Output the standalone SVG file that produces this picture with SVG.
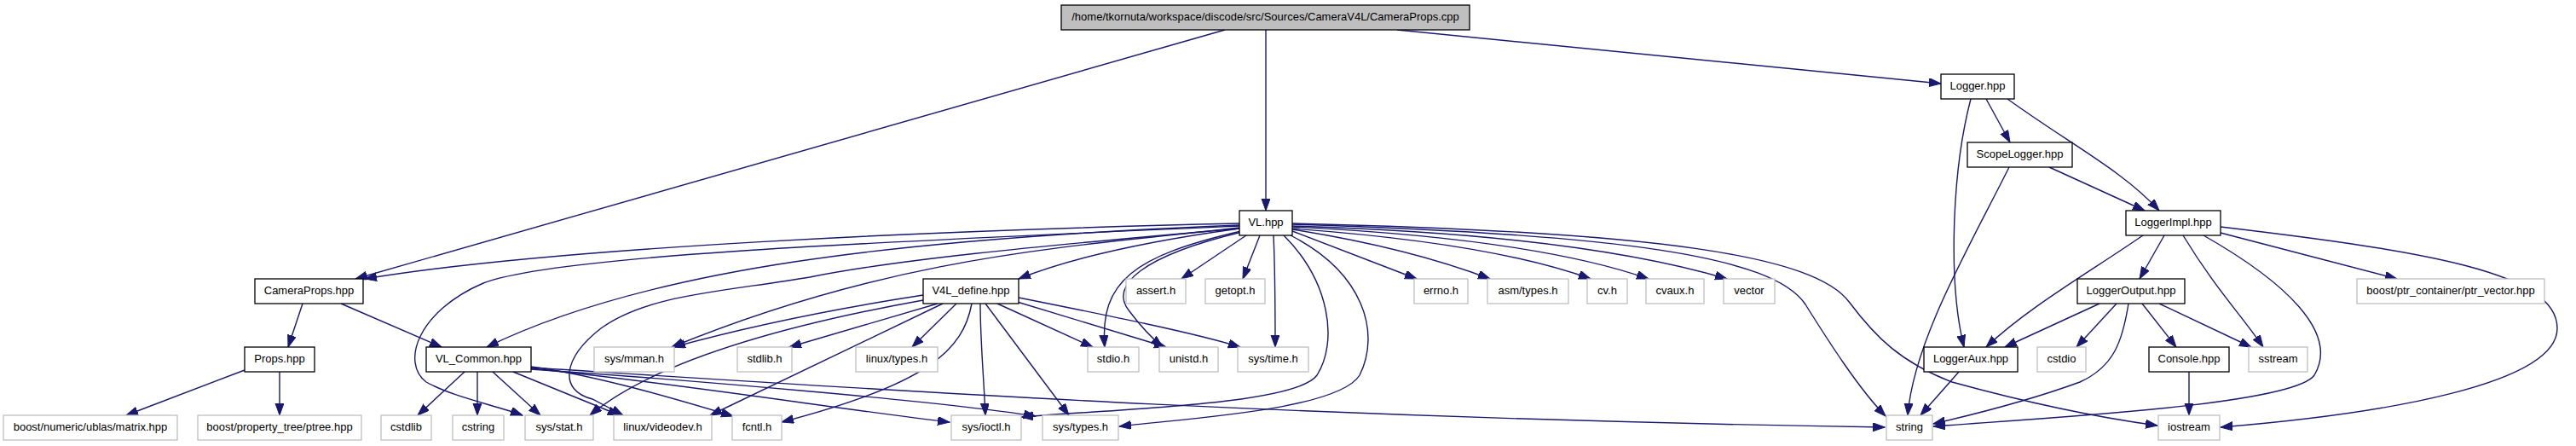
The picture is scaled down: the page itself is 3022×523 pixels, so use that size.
<svg xmlns="http://www.w3.org/2000/svg" width="3022" height="523" viewBox="0 0 3022 523">
<style>
.n rect{fill:#fff;stroke:#000;stroke-width:1.3}
.g rect{fill:#fff;stroke:#bfbfbf;stroke-width:1.3}
.r rect{fill:#bfbfbf;stroke:#000;stroke-width:1.3}
text{font-family:"Liberation Sans",Arial,Helvetica,sans-serif;font-size:13px;text-anchor:middle;fill:#000}
#edges path{fill:none;stroke:#191970;stroke-width:1.4;marker-end:url(#ah)}
</style>
<defs>
<marker id="ah" markerWidth="15" markerHeight="11" refX="14" refY="5" orient="auto" markerUnits="userSpaceOnUse">
<path d="M0,0 L14,5 L0,10 z" fill="#191970" stroke="#191970" stroke-width="1"/>
</marker>
</defs>
<rect width="3022" height="523" fill="#fff"/>
<g id="edges">
<path d="M1437,35 L417,327"/>
<path d="M1485,35 L1485,247"/>
<path d="M1639,35 L2277,98"/>
<path d="M1454,262 C1100,270 650,290 428,327"/>
<path d="M1454,264 C1050,280 760,315 571,407"/>
<path d="M1454,265 C1000,285 650,300 567,332 C490,365 470,425 500,448 C530,465 580,475 613,487"/>
<path d="M1454,267 C1250,290 1050,300 788,407"/>
<path d="M1454,268 C1200,290 1050,305 950,325 C850,342 760,345 705,385 C660,420 655,458 695,468 L731,487"/>
<path d="M1454,268 C1330,285 1250,305 1195,327"/>
<path d="M1462,276 L1386,327"/>
<path d="M1478,276 L1458,327"/>
<path d="M1456,271 C1330,300 1290,330 1296,407"/>
<path d="M1457,272 C1340,300 1300,335 1325,365 C1340,385 1352,397 1364,407"/>
<path d="M1494,276 C1496,320 1496,360 1496,407"/>
<path d="M1506,276 C1560,330 1570,400 1545,440 C1520,475 1300,480 1198,489"/>
<path d="M1514,276 C1600,320 1620,390 1595,440 C1570,480 1400,490 1313,500"/>
<path d="M1516,271 L1662,327"/>
<path d="M1516,269 Q1650,290 1748,327"/>
<path d="M1516,268 Q1750,285 1866,327"/>
<path d="M1516,266 Q1800,280 1934,327"/>
<path d="M1516,265 Q1850,275 2026,327"/>
<path d="M1516,263 C1900,275 2080,300 2118,357 C2145,400 2180,455 2212,488"/>
<path d="M1516,262 C1950,272 2130,300 2170,355 C2200,395 2230,425 2290,448 C2370,470 2450,488 2531,499"/>
<path d="M1083,346 C960,365 870,385 790,407"/>
<path d="M1083,352 C900,385 760,430 692,487"/>
<path d="M1100,356 L926,407"/>
<path d="M1122,356 L1070,407"/>
<path d="M1106,356 L833,487"/>
<path d="M1140,356 C1130,410 1090,450 917,495"/>
<path d="M1150,356 C1150,400 1154,440 1156,487"/>
<path d="M1156,356 L1254,487"/>
<path d="M1170,356 L1282,407"/>
<path d="M1190,353 L1368,407"/>
<path d="M1195,349 C1300,370 1400,390 1455,407"/>
<path d="M545,436 L490,487"/>
<path d="M560,436 L560,487"/>
<path d="M578,436 L634,487"/>
<path d="M602,436 L727,487"/>
<path d="M623,430 C700,440 800,470 860,488"/>
<path d="M623,432 C800,450 1000,482 1114,495"/>
<path d="M623,433 C800,445 1100,470 1215,488"/>
<path d="M623,431 C1000,455 1500,490 2211,501"/>
<path d="M355,356 L338,407"/>
<path d="M400,356 L518,407"/>
<path d="M287,434 L148,487"/>
<path d="M328,436 L328,487"/>
<path d="M2330,116 L2358,167"/>
<path d="M2355,116 C2430,170 2490,200 2533,247"/>
<path d="M2312,116 C2290,200 2285,330 2304,407"/>
<path d="M2404,196 L2516,247"/>
<path d="M2357,196 C2310,290 2245,400 2238,487"/>
<path d="M2539,276 L2510,327"/>
<path d="M2514,276 C2450,320 2380,360 2330,407"/>
<path d="M2561,276 C2600,340 2630,370 2655,407"/>
<path d="M2585,276 C2680,330 2745,390 2715,440 C2690,475 2400,490 2268,500"/>
<path d="M2605,273 L2812,327"/>
<path d="M2605,266 C2850,295 3000,320 3000,385 C3000,450 2800,485 2605,501"/>
<path d="M2463,356 L2352,407"/>
<path d="M2483,356 L2436,407"/>
<path d="M2497,356 C2490,400 2480,430 2440,448 C2380,470 2320,485 2268,497"/>
<path d="M2513,356 L2553,407"/>
<path d="M2533,356 L2641,407"/>
<path d="M2298,436 L2253,487"/>
<path d="M2568,436 L2568,487"/>
</g>
<g id="n_root" class="r"><rect x="1245" y="6" width="479" height="29"/><text x="1484.5" y="24">/home/tkornuta/workspace/discode/src/Sources/CameraV4L/CameraProps.cpp</text></g>
<g id="n_logger" class="n"><rect x="2277" y="87" width="86" height="29"/><text x="2320" y="105">Logger.hpp</text></g>
<g id="n_scopelogger" class="n"><rect x="2308" y="167" width="123" height="29"/><text x="2369.5" y="185">ScopeLogger.hpp</text></g>
<g id="n_vl" class="n"><rect x="1454" y="247" width="62" height="29"/><text x="1485" y="265">VL.hpp</text></g>
<g id="n_loggerimpl" class="n"><rect x="2494" y="247" width="111" height="29"/><text x="2549.5" y="265">LoggerImpl.hpp</text></g>
<g id="n_cameraprops" class="n"><rect x="299" y="327" width="127" height="29"/><text x="362.5" y="345">CameraProps.hpp</text></g>
<g id="n_v4ldefine" class="n"><rect x="1083" y="327" width="112" height="29"/><text x="1139" y="345">V4L_define.hpp</text></g>
<g id="n_assert" class="g"><rect x="1321" y="327" width="70" height="29"/><text x="1356" y="345">assert.h</text></g>
<g id="n_getopt" class="g"><rect x="1414" y="327" width="70" height="29"/><text x="1449" y="345">getopt.h</text></g>
<g id="n_errno" class="g"><rect x="1659" y="327" width="63" height="29"/><text x="1690.5" y="345">errno.h</text></g>
<g id="n_asmtypes" class="g"><rect x="1745" y="327" width="95" height="29"/><text x="1792.5" y="345">asm/types.h</text></g>
<g id="n_cv" class="g"><rect x="1862" y="327" width="47" height="29"/><text x="1885.5" y="345">cv.h</text></g>
<g id="n_cvaux" class="g"><rect x="1931" y="327" width="68" height="29"/><text x="1965" y="345">cvaux.h</text></g>
<g id="n_vector" class="g"><rect x="2022" y="327" width="60" height="29"/><text x="2052" y="345">vector</text></g>
<g id="n_loggeroutput" class="n"><rect x="2437" y="327" width="126" height="29"/><text x="2500" y="345">LoggerOutput.hpp</text></g>
<g id="n_ptrvector" class="g"><rect x="2765" y="327" width="220" height="29"/><text x="2875" y="345">boost/ptr_container/ptr_vector.hpp</text></g>
<g id="n_props" class="n"><rect x="287" y="407" width="82" height="29"/><text x="328" y="425">Props.hpp</text></g>
<g id="n_vlcommon" class="n"><rect x="500" y="407" width="123" height="29"/><text x="561.5" y="425">VL_Common.hpp</text></g>
<g id="n_sysmman" class="g"><rect x="697" y="407" width="94" height="29"/><text x="744" y="425">sys/mman.h</text></g>
<g id="n_stdlib" class="g"><rect x="865" y="407" width="64" height="29"/><text x="897" y="425">stdlib.h</text></g>
<g id="n_linuxtypes" class="g"><rect x="1004" y="407" width="96" height="29"/><text x="1052" y="425">linux/types.h</text></g>
<g id="n_stdio" class="g"><rect x="1276" y="407" width="60" height="29"/><text x="1306" y="425">stdio.h</text></g>
<g id="n_unistd" class="g"><rect x="1360" y="407" width="69" height="29"/><text x="1394.5" y="425">unistd.h</text></g>
<g id="n_systime" class="g"><rect x="1452" y="407" width="83" height="29"/><text x="1493.5" y="425">sys/time.h</text></g>
<g id="n_loggeraux" class="n"><rect x="2257" y="407" width="110" height="29"/><text x="2312" y="425">LoggerAux.hpp</text></g>
<g id="n_cstdio" class="g"><rect x="2390" y="407" width="57" height="29"/><text x="2418.5" y="425">cstdio</text></g>
<g id="n_console" class="n"><rect x="2521" y="407" width="94" height="29"/><text x="2568" y="425">Console.hpp</text></g>
<g id="n_sstream" class="g"><rect x="2638" y="407" width="69" height="29"/><text x="2672.5" y="425">sstream</text></g>
<g id="n_matrix" class="g"><rect x="4" y="487" width="204" height="29"/><text x="106" y="505">boost/numeric/ublas/matrix.hpp</text></g>
<g id="n_ptree" class="g"><rect x="232" y="487" width="192" height="29"/><text x="328" y="505">boost/property_tree/ptree.hpp</text></g>
<g id="n_cstdlib" class="g"><rect x="447" y="487" width="59" height="29"/><text x="476.5" y="505">cstdlib</text></g>
<g id="n_cstring" class="g"><rect x="531" y="487" width="60" height="29"/><text x="561" y="505">cstring</text></g>
<g id="n_sysstat" class="g"><rect x="616" y="487" width="80" height="29"/><text x="656" y="505">sys/stat.h</text></g>
<g id="n_videodev" class="g"><rect x="720" y="487" width="115" height="29"/><text x="777.5" y="505">linux/videodev.h</text></g>
<g id="n_fcntl" class="g"><rect x="859" y="487" width="58" height="29"/><text x="888" y="505">fcntl.h</text></g>
<g id="n_sysioctl" class="g"><rect x="1116" y="487" width="82" height="29"/><text x="1157" y="505">sys/ioctl.h</text></g>
<g id="n_systypes" class="g"><rect x="1223" y="487" width="89" height="29"/><text x="1267.5" y="505">sys/types.h</text></g>
<g id="n_string" class="g"><rect x="2213" y="487" width="54" height="29"/><text x="2240" y="505">string</text></g>
<g id="n_iostream" class="g"><rect x="2532" y="487" width="72" height="29"/><text x="2568" y="505">iostream</text></g>
</svg>
